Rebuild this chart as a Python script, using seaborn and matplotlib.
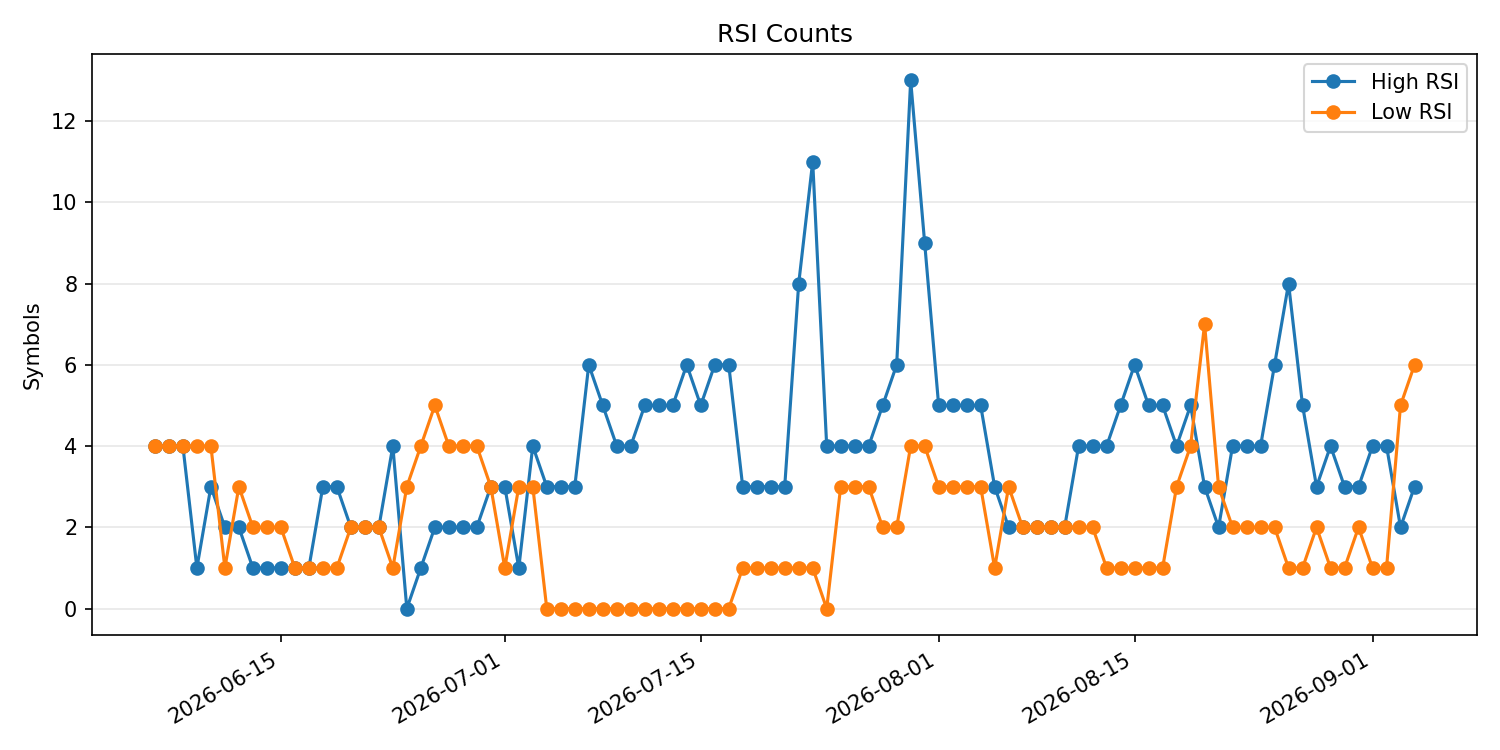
import pandas as pd
import matplotlib
matplotlib.use('Agg')
import matplotlib.pyplot as plt
import seaborn as sns

dates = pd.date_range('2026-06-06', '2026-09-04', freq='D')

high_rsi = [
    4, 4, 4, 1, 3, 2, 2, 1, 1, 1, 1, 1, 3, 3, 2, 2, 2, 4, 0, 1, 2, 2, 2, 2, 3,   # June 6-30
    3, 1, 4, 3, 3, 3, 6, 5, 4, 4, 5, 5, 5, 6, 5, 6, 6, 3, 3, 3, 3, 8, 11, 4, 4,
    4, 4, 5, 6, 13, 9,                                                           # July
    5, 5, 5, 5, 3, 2, 2, 2, 2, 2, 4, 4, 4, 5, 6, 5, 5, 4, 5, 3, 2, 4, 4, 4, 6,
    8, 5, 3, 4, 3, 3,                                                            # August
    4, 4, 2, 3,                                                                  # September
]
low_rsi = [
    4, 4, 4, 4, 4, 1, 3, 2, 2, 2, 1, 1, 1, 1, 2, 2, 2, 1, 3, 4, 5, 4, 4, 4, 3,
    1, 3, 3, 0, 0, 0, 0, 0, 0, 0, 0, 0, 0, 0, 0, 0, 0, 1, 1, 1, 1, 1, 1, 0, 3,
    3, 3, 2, 2, 4, 4,
    3, 3, 3, 3, 1, 3, 2, 2, 2, 2, 2, 2, 1, 1, 1, 1, 1, 3, 4, 7, 3, 2, 2, 2, 2,
    1, 1, 2, 1, 1, 2,
    1, 1, 5, 6,
]

df = pd.DataFrame({'date': dates, 'High RSI': high_rsi, 'Low RSI': low_rsi})

fig, ax = plt.subplots(figsize=(10, 5), dpi=150)
for col, color in [('High RSI', '#1f77b4'), ('Low RSI', '#ff7f0e')]:
    sns.lineplot(x='date', y=col, data=df, ax=ax, color=color, marker='o',
                 markersize=6, markeredgecolor=color, markeredgewidth=1, label=col)

ax.set_title('RSI Counts')
ax.set_xlabel('')
ax.set_ylabel('Symbols')
ax.grid(axis='y', alpha=0.3)
ax.legend(loc='upper right')
fig.autofmt_xdate()
fig.tight_layout()
fig.savefig('out.png', dpi=150)
